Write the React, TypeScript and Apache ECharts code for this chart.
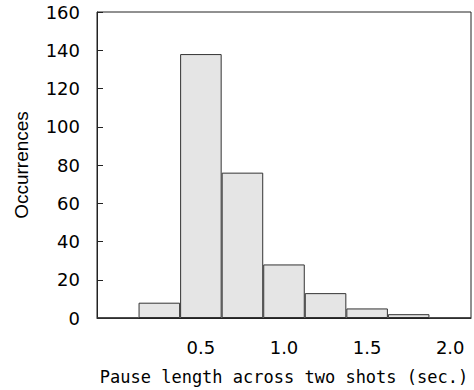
import React, { useEffect, useRef } from "react";
import * as echarts from "echarts";

// Histogram bins (bin centres, sec.) and their counts
const binCenters = ["0.0", "0.25", "0.5", "0.75", "1.0", "1.25", "1.5", "1.75", "2.0"];
const occurrences = [0, 8, 138, 76, 28, 13, 5, 2, 0];
const xTickLabels = ["0.5", "1.0", "1.5", "2.0"];
const yTicks = [0, 20, 40, 60, 80, 100, 120, 140, 160];

export default function App() {
  const ref = useRef<HTMLDivElement>(null);

  useEffect(() => {
    if (!ref.current) return;
    const chart = echarts.init(ref.current, undefined, { renderer: "svg" });
    chart.setOption({
      animation: false,
      backgroundColor: "#ffffff",
      grid: {
        left: 97,
        right: 3,
        top: 12,
        bottom: 72,
        show: true,
        borderColor: "#222",
        borderWidth: 1,
        backgroundColor: "transparent",
      },
      xAxis: {
        type: "category",
        data: binCenters,
        boundaryGap: true,
        axisLine: { lineStyle: { color: "#222", width: 1 } },
        axisTick: { show: false },
        axisLabel: {
          interval: 0,
          margin: 20,
          fontFamily: "DejaVu Sans",
          fontSize: 18,
          color: "#000",
          formatter: (v: string) => (xTickLabels.includes(v) ? v : ""),
        },
        name: "Pause length across two shots (sec.)",
        nameLocation: "middle",
        nameGap: 50,
        nameTextStyle: {
          fontFamily: "DejaVu Sans Mono",
          fontSize: 17,
          color: "#000",
        },
      },
      yAxis: {
        type: "value",
        min: yTicks[0],
        max: yTicks[yTicks.length - 1],
        interval: 20,
        splitLine: { show: false },
        axisLine: { show: true, lineStyle: { color: "#222", width: 1 } },
        axisTick: { show: true, inside: true, length: 6, lineStyle: { color: "#222" } },
        axisLabel: {
          margin: 17,
          fontFamily: "DejaVu Sans",
          fontSize: 18,
          color: "#000",
        },
        name: "Occurrences",
        nameLocation: "middle",
        nameGap: 66,
        nameTextStyle: {
          fontFamily: "Liberation Sans",
          fontSize: 19,
          color: "#000",
        },
      },
      series: [
        {
          type: "bar",
          data: occurrences,
          barCategoryGap: "0%",
          itemStyle: {
            color: "#e5e5e5",
            borderColor: "#333",
            borderWidth: 1,
          },
        },
      ],
    });
    return () => chart.dispose();
  }, []);

  return (
    <div
      ref={ref}
      style={{ position: "fixed", left: 0, top: 0, width: 474, height: 390 }}
    />
  );
}
